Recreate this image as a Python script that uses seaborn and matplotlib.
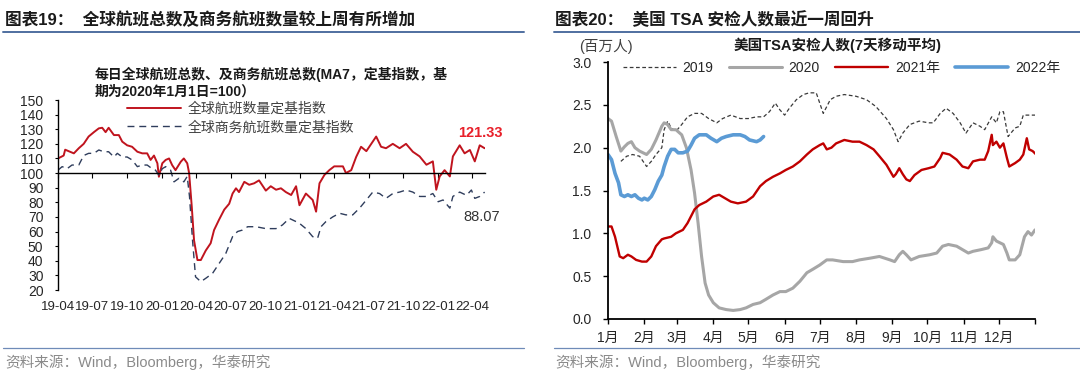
import numpy as np
import pandas as pd
import matplotlib
matplotlib.use("Agg")
import matplotlib.pyplot as plt
import matplotlib.dates as mdates
from matplotlib.lines import Line2D
import seaborn as sns

# ---------------- Left chart data (index, 2020-01-01 = 100) ----------------
flight_dates = ["2019-04-01", "2019-04-16", "2019-04-20", "2019-04-29", "2019-05-13", "2019-05-26",
                "2019-06-08", "2019-06-21", "2019-07-05", "2019-07-18", "2019-07-27", "2019-08-05",
                "2019-08-13", "2019-08-27", "2019-09-09", "2019-09-18", "2019-10-01", "2019-10-14",
                "2019-10-28", "2019-11-10", "2019-11-23", "2019-12-02", "2019-12-11", "2019-12-20",
                "2019-12-24", "2020-01-02", "2020-01-11", "2020-01-20", "2020-01-28", "2020-02-06",
                "2020-02-20", "2020-02-28", "2020-03-08", "2020-03-13", "2020-03-20", "2020-03-26",
                "2020-04-04", "2020-04-13", "2020-04-26", "2020-05-09", "2020-05-18", "2020-05-31",
                "2020-06-14", "2020-06-27", "2020-07-06", "2020-07-15", "2020-07-23", "2020-08-06",
                "2020-08-19", "2020-09-01", "2020-09-14", "2020-10-02", "2020-10-15", "2020-10-29",
                "2020-11-11", "2020-11-24", "2020-12-08", "2020-12-21", "2020-12-30", "2021-01-16",
                "2021-02-03", "2021-02-12", "2021-02-21", "2021-03-06", "2021-03-19", "2021-04-01",
                "2021-04-24", "2021-05-02", "2021-05-16", "2021-05-29", "2021-06-11", "2021-06-25",
                "2021-07-08", "2021-07-21", "2021-08-03", "2021-08-16", "2021-09-03", "2021-09-21",
                "2021-10-08", "2021-10-26", "2021-11-13", "2021-12-01", "2021-12-18", "2021-12-27",
                "2022-01-05", "2022-01-18", "2022-02-01", "2022-02-09", "2022-02-27", "2022-03-12",
                "2022-03-26", "2022-04-08", "2022-04-21", "2022-05-04"]
flight_index = [110, 112, 116, 115, 113.5, 117,
                120, 125, 128, 130.6, 131, 128,
                131, 126, 126, 121.5, 119, 118,
                114.6, 113.5, 113.5, 109, 112, 106.7,
                97.5, 106.7, 109, 110, 105.5, 102,
                107.8, 110, 106.7, 100, 77, 54,
                40.5, 40.5, 47, 52, 61, 68,
                75, 79, 86, 89.6, 87, 94,
                92, 93, 95, 88, 91, 88.6,
                89.6, 87, 85, 91, 78, 86,
                81.6, 73.6, 93, 98.7, 102, 104.6,
                104.6, 100, 102, 111, 118, 115,
                120, 125, 118, 117, 120, 117,
                120, 114.6, 111.4, 105.7, 108, 88.6,
                97.7, 102, 97.7, 111.4, 119, 113.5,
                115.8, 108, 119, 117]

biz_dates = ["2019-04-01", "2019-04-12", "2019-04-25", "2019-05-08", "2019-05-26", "2019-06-08",
             "2019-06-21", "2019-07-05", "2019-07-18", "2019-07-31", "2019-08-13", "2019-08-27",
             "2019-09-05", "2019-09-18", "2019-10-01", "2019-10-14", "2019-10-28", "2019-11-10",
             "2019-11-23", "2019-12-06", "2019-12-15", "2019-12-24", "2020-01-02", "2020-01-11",
             "2020-01-24", "2020-02-02", "2020-02-15", "2020-02-28", "2020-03-08", "2020-03-14",
             "2020-03-22", "2020-03-30", "2020-04-13", "2020-04-26", "2020-05-14", "2020-05-31",
             "2020-06-18", "2020-07-06", "2020-07-19", "2020-08-01", "2020-08-15", "2020-09-06",
             "2020-10-02", "2020-10-29", "2020-11-15", "2020-12-03", "2020-12-21", "2020-12-30",
             "2021-01-16", "2021-02-03", "2021-02-16", "2021-02-25", "2021-03-10", "2021-03-28",
             "2021-04-15", "2021-05-02", "2021-05-20", "2021-06-07", "2021-06-25", "2021-07-12",
             "2021-07-30", "2021-08-16", "2021-09-03", "2021-09-21", "2021-10-08", "2021-10-26",
             "2021-11-13", "2021-12-01", "2021-12-18", "2022-01-01", "2022-01-14", "2022-02-01",
             "2022-02-09", "2022-02-27", "2022-03-17", "2022-03-30", "2022-04-08", "2022-04-21",
             "2022-05-04"]
biz_index = [102, 104.4, 103, 105.5, 105.5, 112,
             113.5, 113.5, 115.8, 114.6, 114.6, 111,
             113.5, 111, 111, 109, 104.4, 105.5,
             105.5, 103, 102, 98.6, 103, 104.4,
             102, 94, 96.4, 94, 97.7, 84,
             54, 29, 25.7, 28, 31.4, 38,
             45, 56.5, 60, 61, 63.3, 63.3,
             62, 62, 64.5, 69, 66.8, 65.6,
             62, 56.5, 55.4, 63.3, 66.8, 70,
             72.5, 71.4, 71.4, 76, 81.6, 87,
             86, 82.7, 86, 87, 88.4, 87,
             84, 84, 86, 80.4, 81.6, 76,
             84, 87, 84.8, 88.4, 82.7, 84,
             87]

left_tick_dates = ["2019-04-01", "2019-07-01", "2019-10-01", "2020-01-01", "2020-04-01", "2020-07-01",
                   "2020-10-01", "2021-01-01", "2021-04-01", "2021-07-01", "2021-10-01", "2022-01-01",
                   "2022-04-01"]
left_tick_labels = ["19-04", "19-07", "19-10", "20-01", "20-04", "20-07", "20-10", "21-01",
                    "21-04", "21-07", "21-10", "22-01", "22-04"]
left_yticks = [20, 30, 40, 50, 60, 70, 80, 90, 100, 110, 120, 130, 140, 150]
flight_label = "121.33"
biz_label = "88.07"

# ---------------- Right chart data (US TSA throughput, million, 7DMA) ----------------
day_2019 = [11, 16, 21, 27, 30, 33, 37, 41, 46, 48, 51, 54, 58, 63, 68, 74, 80, 86, 93, 98,
            105, 113, 120, 127, 133, 138, 143, 147, 151, 155, 161, 167, 172, 178, 184, 190,
            195, 202, 212, 221, 229, 238, 244, 248, 252, 258, 266, 274, 278, 284, 289, 295,
            301, 306, 312, 318, 322, 328, 332, 335, 338, 342, 348, 352, 355, 360, 366]
tsa_2019 = [1.84, 1.90, 1.92, 1.90, 1.84, 1.78, 1.84, 1.92, 2.00, 2.21, 2.31, 2.23, 2.19, 2.27,
            2.36, 2.40, 2.40, 2.34, 2.29, 2.34, 2.38, 2.34, 2.34, 2.36, 2.36, 2.42, 2.52, 2.44,
            2.38, 2.46, 2.56, 2.62, 2.64, 2.64, 2.40, 2.56, 2.60, 2.62, 2.60, 2.56, 2.48, 2.34,
            2.21, 2.07, 2.17, 2.27, 2.31, 2.29, 2.29, 2.40, 2.46, 2.40, 2.29, 2.17, 2.29, 2.25,
            2.21, 2.36, 2.29, 2.42, 2.42, 2.13, 2.23, 2.25, 2.38, 2.38, 2.38]

day_2020 = [0, 3, 7, 11, 14, 17, 20, 23, 27, 33, 37, 41, 46, 48, 51, 54, 58, 63, 67, 71, 74,
            77, 80, 83, 86, 90, 95, 101, 107, 113, 118, 124, 130, 135, 141, 147, 152, 158, 164,
            170, 175, 181, 187, 192, 201, 209, 215, 224, 232, 241, 245, 249, 252, 255, 259, 266,
            275, 281, 286, 291, 298, 303, 308, 312, 319, 325, 328, 329, 332, 335, 338, 341, 343,
            348, 352, 356, 359, 362, 365]
tsa_2020 = [2.34, 2.31, 2.13, 1.96, 2.01, 2.05, 2.07, 2.00, 1.96, 1.92, 1.98, 2.09, 2.25, 2.29,
            2.27, 2.21, 2.21, 2.15, 2.00, 1.74, 1.47, 1.12, 0.73, 0.42, 0.28, 0.19, 0.13, 0.11,
            0.10, 0.11, 0.13, 0.17, 0.19, 0.23, 0.28, 0.32, 0.32, 0.36, 0.44, 0.54, 0.58, 0.63,
            0.69, 0.69, 0.67, 0.67, 0.69, 0.71, 0.73, 0.69, 0.67, 0.75, 0.79, 0.75, 0.69, 0.73,
            0.75, 0.77, 0.85, 0.87, 0.85, 0.81, 0.77, 0.79, 0.81, 0.83, 0.89, 0.96, 0.91, 0.89,
            0.87, 0.77, 0.69, 0.69, 0.75, 0.96, 1.02, 0.98, 1.04]

day_2021 = [0, 3, 6, 10, 13, 17, 20, 24, 29, 33, 37, 41, 46, 48, 54, 58, 64, 68, 74, 78, 84,
            90, 95, 100, 105, 111, 118, 124, 130, 135, 141, 147, 152, 158, 164, 170, 175, 181,
            184, 187, 191, 195, 202, 209, 215, 221, 227, 232, 238, 244, 246, 249, 252, 255, 258,
            262, 268, 274, 279, 284, 286, 292, 298, 303, 308, 312, 318, 322, 325, 328, 329, 332,
            335, 338, 341, 343, 348, 352, 355, 358, 360, 363, 366]
tsa_2021 = [1.08, 1.08, 0.96, 0.73, 0.71, 0.75, 0.73, 0.69, 0.67, 0.67, 0.73, 0.85, 0.93, 0.94,
            0.96, 1.00, 1.04, 1.12, 1.28, 1.33, 1.37, 1.43, 1.45, 1.41, 1.37, 1.35, 1.37, 1.43,
            1.55, 1.61, 1.66, 1.70, 1.74, 1.78, 1.84, 1.92, 1.98, 2.03, 2.05, 1.98, 2.00, 2.05,
            2.09, 2.07, 2.07, 2.03, 1.98, 1.90, 1.80, 1.66, 1.69, 1.76, 1.69, 1.63, 1.61, 1.68,
            1.74, 1.76, 1.78, 1.88, 1.94, 1.92, 1.86, 1.78, 1.76, 1.84, 1.86, 1.86, 1.96, 2.15,
            2.03, 2.07, 2.00, 2.05, 1.88, 1.78, 1.82, 1.86, 1.92, 2.11, 1.98, 1.96, 1.92]

day_2022 = [0, 3, 6, 9, 11, 14, 17, 20, 23, 26, 29, 31, 34, 37, 40, 43, 46, 48, 51, 54, 57,
            60, 64, 68, 71, 74, 78, 84, 88, 93, 97, 101, 107, 113, 117, 121, 127, 130, 133]
tsa_2022 = [1.92, 1.86, 1.70, 1.59, 1.45, 1.43, 1.45, 1.43, 1.45, 1.41, 1.39, 1.41, 1.39, 1.43,
            1.51, 1.61, 1.68, 1.78, 1.90, 1.98, 1.98, 1.94, 1.94, 1.96, 2.03, 2.11, 2.15, 2.15,
            2.11, 2.07, 2.11, 2.13, 2.15, 2.15, 2.13, 2.09, 2.07, 2.09, 2.13]

month_tick_days = [0, 31, 59, 90, 120, 151, 181, 212, 243, 273, 304, 334, 365]
month_labels = ["1月", "2月", "3月", "4月", "5月", "6月", "7月", "8月", "9月", "10月", "11月", "12月", ""]
right_yticks = [0.0, 0.5, 1.0, 1.5, 2.0, 2.5, 3.0]
series_names = ["2019", "2020", "2021年", "2022年"]

# ---------------- Style ----------------
sns.set_theme(style="white")
plt.rcParams["font.family"] = ["Liberation Sans", "Noto Sans CJK SC"]
plt.rcParams["axes.unicode_minus"] = False

W, H = 1080, 377
fig = plt.figure(figsize=(W / 100, H / 100), dpi=100)

def fx(px):
    return px / W

def fy(py):
    return 1 - py / H

TXT = "#262626"

# ============ Left chart ============
axL = fig.add_axes([fx(58), fy(290), fx(485 - 58), (290 - 100) / H])
df_f = pd.DataFrame({"date": pd.to_datetime(flight_dates), "v": flight_index})
df_b = pd.DataFrame({"date": pd.to_datetime(biz_dates), "v": biz_index})
sns.lineplot(data=df_f, x="date", y="v", ax=axL, color="#c0141e", linewidth=1.4,
             label="全球航班数量定基指数")
sns.lineplot(data=df_b, x="date", y="v", ax=axL, color="#2f3d5c", linewidth=1.0,
             linestyle=(0, (5, 3.5)), label="全球商务航班数量定基指数")

axL.set_xlim(mdates.date2num(pd.Timestamp("2019-04-01")), mdates.date2num(pd.Timestamp("2022-05-05")))
axL.set_ylim(20, 150)
axL.set_xlabel("")
axL.set_ylabel("")
axL.set_yticks(left_yticks)
axL.set_yticklabels([str(v) for v in left_yticks])
for s in ["top", "right"]:
    axL.spines[s].set_visible(False)
axL.spines["bottom"].set_position(("data", 100))
axL.spines["bottom"].set_color("black")
axL.spines["left"].set_color("black")
axL.spines["bottom"].set_linewidth(1.0)
axL.spines["left"].set_linewidth(1.0)
tick_nums = [mdates.date2num(pd.Timestamp(d)) for d in left_tick_dates]
axL.set_xticks(tick_nums)
axL.tick_params(axis="x", direction="out", length=3.5, width=0.8, color="black", labelbottom=False, bottom=True)
axL.tick_params(axis="y", direction="out", length=2.5, width=0.8, color="black", labelsize=10,
                labelcolor=TXT, pad=8, left=True)
sec = axL.secondary_xaxis("bottom")
sec.set_xticks(tick_nums)
sec.set_xticklabels(left_tick_labels)
sec.spines["bottom"].set_visible(False)
sec.tick_params(length=0, labelsize=9.5, labelcolor=TXT, pad=8)

axL.legend(loc="upper left", bbox_to_anchor=(fx(127), fy(102)), bbox_transform=fig.transFigure,
           frameon=False, fontsize=10, handlelength=3.9, handletextpad=0.5, labelspacing=0.3,
           borderpad=0, borderaxespad=0, labelcolor="#404040")

axL.annotate(flight_label, xy=(df_f["date"].iloc[-1], df_f["v"].iloc[-1]), xytext=(-3, 11),
             textcoords="offset points", ha="center", va="center", color="#e8202a",
             fontsize=10.5, fontweight="bold")
axL.annotate(biz_label, xy=(df_b["date"].iloc[-1], df_b["v"].iloc[-1]), xytext=(-2, -18),
             textcoords="offset points", ha="center", va="center", color="#333333", fontsize=10.5)

fig.text(fx(95), fy(74), "每日全球航班总数、及商务航班总数(MA7，定基指数，基", fontsize=10,
         fontweight="bold", color="#1a1a1a", va="center", ha="left")
fig.text(fx(95), fy(92), "期为2020年1月1日=100）", fontsize=10, fontweight="bold",
         color="#1a1a1a", va="center", ha="left")

# ============ Right chart ============
axR = fig.add_axes([fx(608), fy(319), fx(1035 - 608), (319 - 62) / H])
df19 = pd.DataFrame({"day": day_2019, "v": tsa_2019})
df20 = pd.DataFrame({"day": day_2020, "v": tsa_2020})
df21 = pd.DataFrame({"day": day_2021, "v": tsa_2021})
df22 = pd.DataFrame({"day": day_2022, "v": tsa_2022})
sns.lineplot(data=df19, x="day", y="v", ax=axR, color="#3a3a3a", linewidth=0.9,
             linestyle=(0, (3, 2)), label=series_names[0])
sns.lineplot(data=df20, x="day", y="v", ax=axR, color="#a6a6a6", linewidth=2.2, label=series_names[1])
sns.lineplot(data=df21, x="day", y="v", ax=axR, color="#c00000", linewidth=1.7, label=series_names[2])
sns.lineplot(data=df22, x="day", y="v", ax=axR, color="#5b9bd5", linewidth=2.6, label=series_names[3])
axR.set_xlim(0, 365)
axR.set_ylim(0, 3.0)
axR.set_xlabel("")
axR.set_ylabel("")
axR.set_yticks(right_yticks)
axR.set_yticklabels([f"{v:.1f}" for v in right_yticks])
axR.set_xticks(month_tick_days)
axR.set_xticklabels(month_labels)
for s in ["top", "right"]:
    axR.spines[s].set_visible(False)
for s in ["left", "bottom"]:
    axR.spines[s].set_color("black")
    axR.spines[s].set_linewidth(1.3)
axR.tick_params(axis="both", direction="out", length=3.8, width=1.0, color="black",
                labelsize=10, labelcolor=TXT, bottom=True, left=True)
axR.tick_params(axis="y", pad=8)
axR.tick_params(axis="x", pad=5)
axR.legend(loc="center left", bbox_to_anchor=(fx(623), fy(68)), bbox_transform=fig.transFigure,
           ncol=4, frameon=False, fontsize=10, handlelength=3.8, handletextpad=0.5,
           columnspacing=1.1, borderpad=0, borderaxespad=0, labelcolor=TXT)

fig.text(fx(838), fy(45), "美国TSA安检人数(7天移动平均)", fontsize=10.5, fontweight="bold",
         color="#1a1a1a", ha="center", va="center")
fig.text(fx(606), fy(46), "(百万人)", fontsize=10.5, color="#404040", ha="center", va="center")

# ============ Titles, rules, sources ============
fig.text(fx(5), fy(20), "图表19：  全球航班总数及商务航班数量较上周有所增加", fontsize=12,
         fontweight="bold", color="#1a1a1a", ha="left", va="center")
fig.text(fx(555), fy(20), "图表20：  美国 TSA 安检人数最近一周回升", fontsize=12,
         fontweight="bold", color="#1a1a1a", ha="left", va="center")
for x0, x1 in [(3, 524), (554, 1080)]:
    fig.add_artist(Line2D([fx(x0), fx(x1)], [fy(32), fy(32)], color="#4f6fa0", linewidth=1.4))
    fig.add_artist(Line2D([fx(x0), fx(x1)], [fy(348), fy(348)], color="#6f8bb8", linewidth=0.9))
fig.text(fx(5), fy(362), "资料来源：Wind，Bloomberg，华泰研究", fontsize=10.5, color="#8a8a8a",
         ha="left", va="center")
fig.text(fx(555), fy(362), "资料来源：Wind，Bloomberg，华泰研究", fontsize=10.5, color="#8a8a8a",
         ha="left", va="center")

fig.savefig("out.png", dpi=100)
